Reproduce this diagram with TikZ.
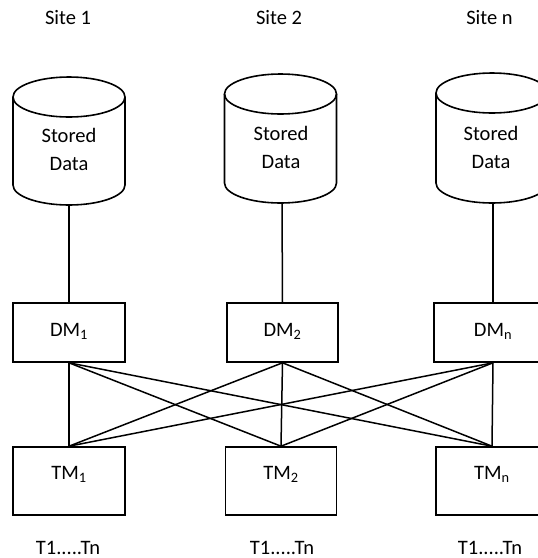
\documentclass[tikz,border=0pt]{standalone}
\usepackage{fontspec}
\setmainfont{Carlito}
\newcommand\mycyl[3]{%
  \draw (#1-56,#2) arc[start angle=180,end angle=-180,x radius=56,y radius=20];
  \draw (#1-56,#2) -- (#1-56,#3) arc[start angle=180,end angle=0,x radius=56,y radius=20] -- (#1+56,#2);
}
\begin{document}
\begin{tikzpicture}[x=1pt,y=-1pt,line width=1.6pt,
  every node/.style={font=\fontsize{20.5}{28}\selectfont},
  lab/.style={inner sep=0pt,align=center},
  dmbox/.style={draw,rectangle,inner sep=0pt,minimum height=59pt,text height=14pt,text depth=6pt},
  tmbox/.style={draw,rectangle,inner sep=0pt,minimum height=68pt,text height=14pt,text depth=17pt},
  conn/.style={line width=1.5pt}]
\useasboundingbox (0,0) rectangle (538,558);
\clip (0,0) rectangle (538,558);
% site labels
\node[lab] (s1) at (68,17.5) {Site 1};
\node[lab] (s2) at (279,17.5) {Site 2};
\node[lab] (sn) at (489.5,17.5) {Site n};
% cylinders
\mycyl{69}{97}{185}
\mycyl{280.5}{94}{183}
\mycyl{492}{93}{183}
\node[lab] (c1) at (69,149) {Stored\\Data};
\node[lab] (c2) at (281,147) {Stored\\Data};
\node[lab] (cn) at (491,147) {Stored\\Data};
\coordinate (c1b) at (69,205);
\coordinate (c2b) at (282,203);
\coordinate (cnb) at (493,203);
% DM boxes
\node[dmbox,minimum width=112pt] (DM1) at (69,332.5) {DM\textsubscript{1}};
\node[dmbox,minimum width=111pt] (DM2) at (282.5,332.5) {DM\textsubscript{2}};
\node[dmbox,minimum width=118pt] (DMn) at (493,332.5) {DM\textsubscript{n}};
% TM boxes
\node[tmbox,minimum width=112pt] (TM1) at (69,481) {TM\textsubscript{1}};
\node[tmbox,minimum width=111pt] (TM2) at (281,481) {TM\textsubscript{2}};
\node[tmbox,minimum width=112pt] (TMn) at (492,481) {TM\textsubscript{n}};
% bottom labels
\node[lab] (t1) at (68,548) {T1.....Tn};
\node[lab] (t2) at (282,548) {T1.....Tn};
\node[lab] (tn) at (490,548) {T1.....Tn};
% connectors
\draw[conn] (c1b) -- (DM1.north);
\draw[conn] (c2b) -- (DM2.north);
\draw[conn] (cnb) -- (DMn.north);
\foreach \d in {DM1,DM2,DMn}{
  \foreach \t in {TM1,TM2,TMn}{
    \draw[conn] (\d.south) -- (\t.north);
  }
}
\end{tikzpicture}
\end{document}
